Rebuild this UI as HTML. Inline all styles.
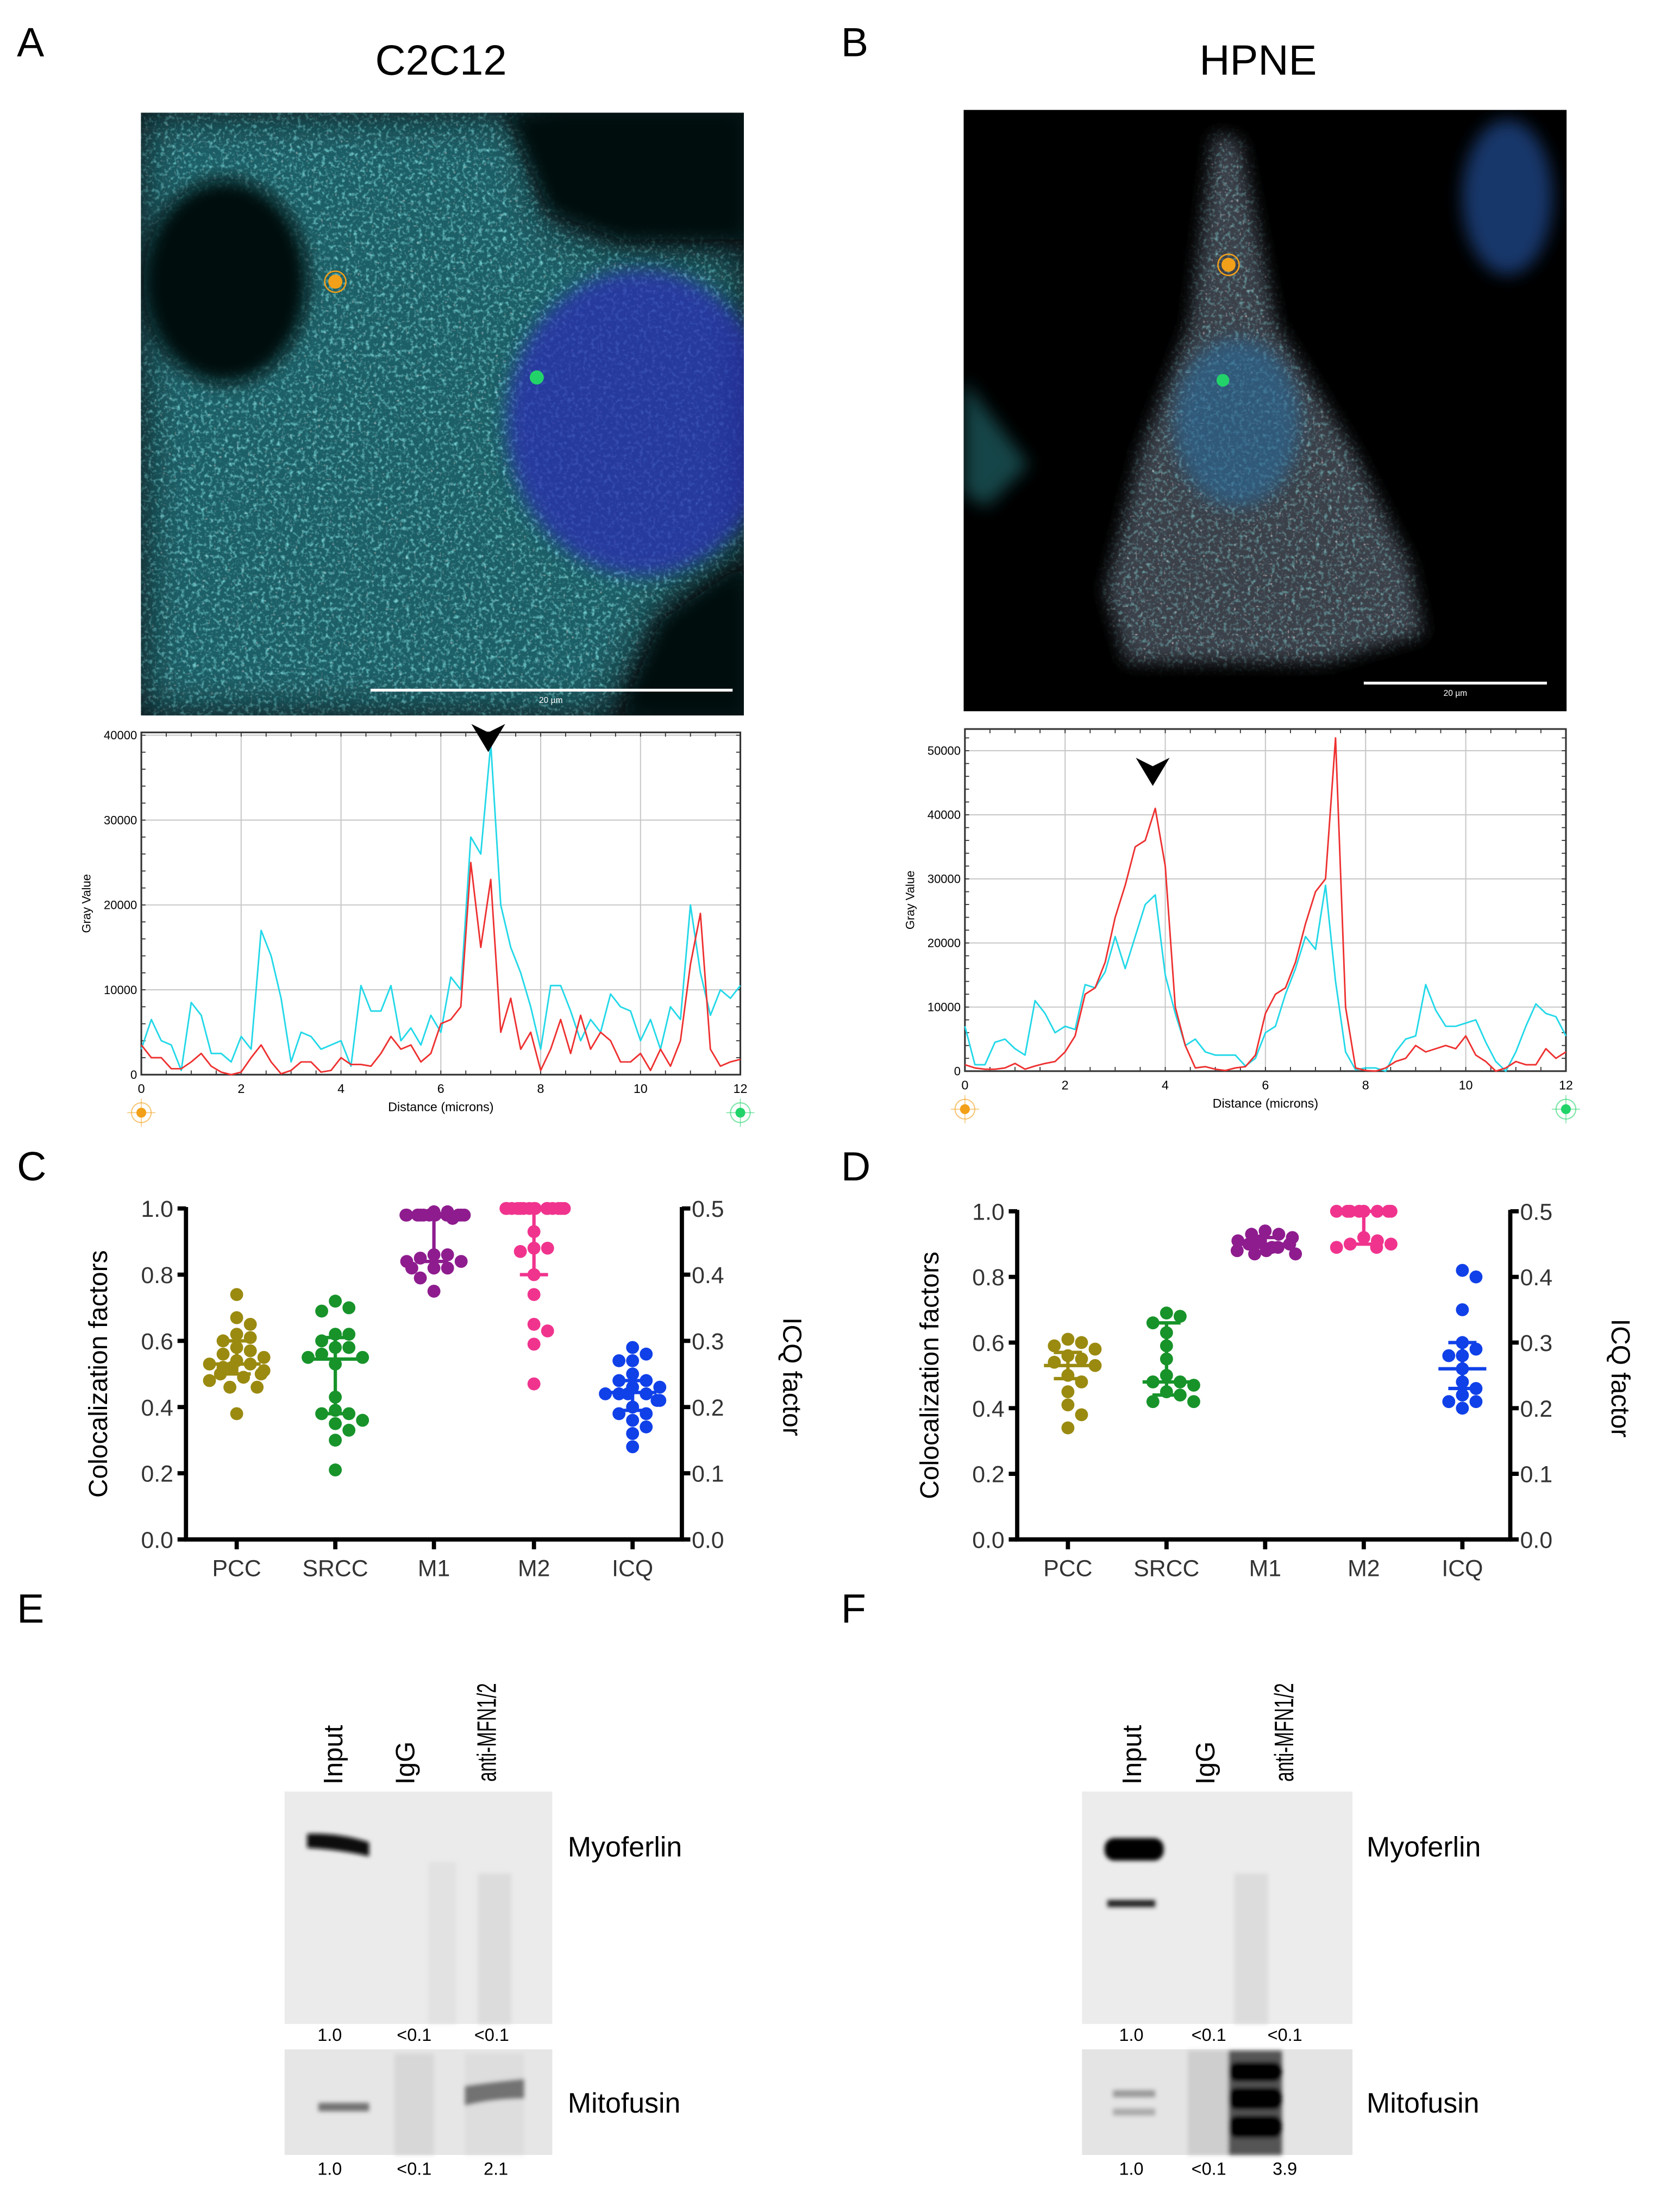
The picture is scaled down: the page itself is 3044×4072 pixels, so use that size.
<!DOCTYPE html>
<html><head><meta charset="utf-8"><style>
html,body{margin:0;padding:0;background:#fff;}
svg{display:block;font-family:"Liberation Sans",Arial,sans-serif;}
</style></head><body>
<svg id="fig" width="3044" height="4072" viewBox="0 0 1174 1570.5" xmlns="http://www.w3.org/2000/svg">
<defs>
<filter id="blur6" x="-50%" y="-50%" width="200%" height="200%"><feGaussianBlur stdDeviation="6"/></filter>
<filter id="blur15" x="-50%" y="-50%" width="200%" height="200%"><feGaussianBlur stdDeviation="15"/></filter>
<filter id="blur2"><feGaussianBlur stdDeviation="1.5"/></filter>
<filter id="speck"><feTurbulence type="fractalNoise" baseFrequency="0.35" numOctaves="2" seed="3"/><feColorMatrix type="matrix" values="0 0 0 0 0.3  0 0 0 0 0.95  0 0 0 0 0.95  0 0 0 2.2 -1.1"/></filter>
<filter id="speckR"><feTurbulence type="fractalNoise" baseFrequency="0.5" numOctaves="1" seed="9"/><feColorMatrix type="matrix" values="0 0 0 0 1  0 0 0 0 0.8  0 0 0 0 0.8  0 0 0 3 -1.9"/></filter>
<clipPath id="clipA"><rect x="100" y="80" width="428" height="428"/></clipPath>
<clipPath id="clipB"><rect x="684" y="78" width="428" height="427"/></clipPath>
</defs>

<text x="12" y="40" font-size="29">A</text>
<text x="313" y="53" font-size="30" text-anchor="middle">C2C12</text>
<text x="597" y="40" font-size="29">B</text>
<text x="893" y="53" font-size="30" text-anchor="middle">HPNE</text>

<g clip-path="url(#clipA)">
<rect x="100" y="80" width="428" height="428" fill="#0a0f12"/>
<g filter="url(#blur15)">
<path d="M100,80 L370,80 L390,160 L450,175 L528,180 L528,390 L470,430 L430,508 L100,508 Z" fill="#1f5f66"/>
</g>
<mask id="mA"><g filter="url(#blur15)"><path d="M100,80 L370,80 L390,160 L450,175 L528,180 L528,390 L470,430 L430,508 L100,508 Z" fill="#fff"/><ellipse cx="160" cy="200" rx="62" ry="75" fill="#000"/></g></mask>
<rect x="100" y="80" width="428" height="428" filter="url(#speck)" opacity="0.85" mask="url(#mA)"/>
<rect x="100" y="80" width="428" height="428" filter="url(#speckR)" opacity="0.7" mask="url(#mA)"/>
<g filter="url(#blur6)"><ellipse cx="160" cy="200" rx="58" ry="72" fill="#06090b"/><path d="M360,80 L528,80 L528,170 L440,170 L390,150 Z" fill="#050708"/><path d="M470,440 L528,400 L528,508 L440,508 Z" fill="#050708"/></g>
<ellipse cx="455" cy="300" rx="95" ry="108" fill="#2a2fb0" opacity="0.75" filter="url(#blur6)"/>
<line x1="263" y1="490" x2="520" y2="490" stroke="#fff" stroke-width="2"/>
<text x="391" y="499" font-size="6" fill="#fff" text-anchor="middle">20 µm</text>
<circle cx="238" cy="200" r="5" fill="#f2a019"/><circle cx="238" cy="200" r="7.5" fill="none" stroke="#f2a019" stroke-width="1"/>
<circle cx="381" cy="268" r="5" fill="#22d36a"/>
</g>

<g clip-path="url(#clipB)">
<rect x="684" y="78" width="428" height="427" fill="#000"/>
<mask id="mB"><g filter="url(#blur6)"><path d="M862,95 L880,100 L905,230 L960,320 L1000,400 L1010,450 L940,470 L800,470 L785,420 L810,320 L845,230 Z" fill="#fff"/></g></mask>
<g filter="url(#blur6)"><path d="M862,95 L880,100 L905,230 L960,320 L1000,400 L1010,450 L940,470 L800,470 L785,420 L810,320 L845,230 Z" fill="#3a4048"/></g>
<rect x="684" y="78" width="428" height="427" filter="url(#speckR)" opacity="0.9" mask="url(#mB)"/>
<rect x="684" y="78" width="428" height="427" filter="url(#speck)" opacity="0.6" mask="url(#mB)"/>
<ellipse cx="878" cy="300" rx="45" ry="60" fill="#2a6a9a" opacity="0.6" filter="url(#blur6)"/>
<g filter="url(#blur6)"><ellipse cx="1070" cy="140" rx="32" ry="55" fill="#2a5ab0" opacity="0.6"/><path d="M684,270 L730,330 L700,360 L684,350 Z" fill="#2a8a90" opacity="0.5"/></g>
<line x1="968" y1="485" x2="1098" y2="485" stroke="#fff" stroke-width="2"/>
<text x="1033" y="494" font-size="6" fill="#fff" text-anchor="middle">20 µm</text>
<circle cx="872" cy="188" r="5" fill="#f2a019"/><circle cx="872" cy="188" r="7.5" fill="none" stroke="#f2a019" stroke-width="1"/>
<circle cx="868" cy="270" r="4.5" fill="#22d36a"/>
</g>

<g id="plotA"></g>
<g id="plotB"></g>

<text x="12" y="838" font-size="29">C</text>
<text x="597" y="838" font-size="29">D</text>
<g id="chartC"></g>
<g id="chartD"></g>

<text x="12" y="1152" font-size="29">E</text>
<text x="597" y="1152" font-size="29">F</text>
<g font-size="19">
<text transform="translate(243,1267) rotate(-90)">Input</text>
<text transform="translate(294,1267) rotate(-90)">IgG</text>
<text transform="translate(352,1265) rotate(-90)" textLength="70" lengthAdjust="spacingAndGlyphs">anti-MFN1/2</text>
<rect x="202" y="1272" width="190" height="165" fill="#ebebeb"/>
<g filter="url(#blur2)"><path d="M218,1302 Q240,1301 262,1308 L262,1318 Q240,1313 218,1312 Z" fill="#0a0a0a"/>
<rect x="304" y="1322" width="20" height="115" fill="#dcdcdc" opacity="0.6"/><rect x="339" y="1330" width="24" height="107" fill="#d6d6d6" opacity="0.7"/></g>
<text x="403" y="1318" font-size="20">Myoferlin</text>
<g font-size="12.5" text-anchor="middle"><text x="234" y="1449">1.0</text><text x="294" y="1449">&lt;0.1</text><text x="349" y="1449">&lt;0.1</text></g>
<rect x="202" y="1455" width="190" height="75" fill="#e6e6e6"/>
<g filter="url(#blur2)"><rect x="226" y="1493" width="36" height="6" fill="#555" opacity="0.8"/><rect x="280" y="1458" width="28" height="72" fill="#d0d0d0" opacity="0.7"/>
<path d="M330,1481 Q350,1478 372,1476 L372,1490 Q350,1490 330,1495 Z" fill="#111"/><rect x="330" y="1458" width="42" height="72" fill="#d4d4d4" opacity="0.5"/></g>
<text x="403" y="1500" font-size="20">Mitofusin</text>
<g font-size="12.5" text-anchor="middle"><text x="234" y="1544">1.0</text><text x="294" y="1544">&lt;0.1</text><text x="352" y="1544">2.1</text></g>
</g>
<g font-size="19">
<text transform="translate(810,1267) rotate(-90)">Input</text>
<text transform="translate(862,1267) rotate(-90)">IgG</text>
<text transform="translate(918,1265) rotate(-90)" textLength="70" lengthAdjust="spacingAndGlyphs">anti-MFN1/2</text>
<rect x="768" y="1272" width="192" height="165" fill="#ececec"/>
<g filter="url(#blur2)"><rect x="784" y="1305" width="42" height="16" rx="7" fill="#050505"/><rect x="786" y="1349" width="34" height="5" fill="#222"/>
<rect x="876" y="1330" width="24" height="107" fill="#d8d8d8" opacity="0.8"/></g>
<text x="970" y="1318" font-size="20">Myoferlin</text>
<g font-size="12.5" text-anchor="middle"><text x="803" y="1449">1.0</text><text x="858" y="1449">&lt;0.1</text><text x="912" y="1449">&lt;0.1</text></g>
<rect x="768" y="1455" width="192" height="75" fill="#e4e4e4"/>
<g filter="url(#blur2)"><rect x="790" y="1484" width="30" height="5" fill="#999"/><rect x="790" y="1497" width="30" height="5" fill="#aaa"/>
<rect x="843" y="1456" width="34" height="74" fill="#c8c8c8" opacity="0.8"/>
<rect x="872" y="1456" width="38" height="74" fill="#555"/>
<rect x="872" y="1464" width="38" height="14" rx="6" fill="#000"/><rect x="872" y="1482" width="38" height="16" rx="6" fill="#000"/><rect x="872" y="1502" width="38" height="16" rx="6" fill="#000"/></g>
<text x="970" y="1500" font-size="20">Mitofusin</text>
<g font-size="12.5" text-anchor="middle"><text x="803" y="1544">1.0</text><text x="858" y="1544">&lt;0.1</text><text x="912" y="1544">3.9</text></g>
</g>
</svg>
<script>
const distA = [0,0.2,0.4,0.6,0.8,1,1.2,1.4,1.6,1.8,2,2.2,2.4,2.6,2.8,3,3.2,3.4,3.6,3.8,4,4.2,4.4,4.6,4.8,5,5.2,5.4,5.6,5.8,6,6.2,6.4,6.6,6.8,7,7.2,7.4,7.6,7.8,8,8.2,8.4,8.6,8.8,9,9.2,9.4,9.6,9.8,10,10.2,10.4,10.6,10.8,11,11.2,11.4,11.6,11.8,12];
const cyanA = [3000,6500,4000,3500,500,8500,7000,2500,2500,1500,4500,3000,17000,14000,9000,1500,5000,4500,3000,3500,4000,1000,10500,7500,7500,10500,4000,5500,3500,7000,5000,11500,10000,28000,26000,39000,20000,15000,12000,8000,3000,10500,10500,7500,4000,6500,5000,9500,8000,7500,4000,6500,3000,8000,6500,20000,12000,7000,10000,9000,10500];
const redA = [3500,2000,2000,700,700,1500,2500,1000,300,0,300,2000,3500,1500,100,500,1500,1500,300,500,2000,1200,1200,1000,2500,4500,3000,3500,1500,2500,6000,6500,8000,25000,15000,23000,5000,9000,3000,5000,500,3000,6500,2500,7000,3000,5000,4000,1500,1500,2500,500,3000,1000,4000,13000,19000,3000,1000,1500,1800];
const distB = distA;
const cyanB = [7000,1000,1000,4500,5000,3500,2500,11000,9000,6000,7000,6500,13500,13000,15500,21000,16000,21000,26000,27500,15000,9000,4000,5000,3000,2500,2500,2500,800,2000,6000,7000,12000,16000,21000,19000,29000,14000,3000,200,500,500,0,3000,5000,5500,13500,9500,7000,7000,7500,8000,4500,1500,0,3000,7000,10500,9000,8500,5500];
const redB = [1000,500,300,300,500,1200,300,800,1200,1500,3000,5500,12000,13000,17000,24000,29000,35000,36000,41000,32000,10000,4000,500,700,300,100,500,700,2500,9000,12000,13000,17000,23000,28000,30000,52000,10000,500,100,0,500,1500,2000,4000,3000,3500,4000,3500,5500,2500,1500,0,500,1500,1000,1000,3500,2000,3000];
const xTicks = [0,2,4,6,8,10,12];
const yTicksA = [0,10000,20000,30000,40000];
const yTicksB = [0,10000,20000,30000,40000,50000];
const arrowA = 6.95, arrowB = 3.75;

const categories = ["PCC","SRCC","M1","M2","ICQ"];
const pccC = [0.74,0.67,0.65,0.62,0.61,0.60,0.58,0.57,0.56,0.55,0.54,0.53,0.53,0.52,0.52,0.51,0.50,0.50,0.49,0.48,0.46,0.46,0.38];
const srccC = [0.72,0.70,0.69,0.62,0.62,0.60,0.58,0.58,0.56,0.55,0.55,0.53,0.43,0.39,0.38,0.38,0.36,0.35,0.33,0.30,0.21];
const m1C = [0.99,0.99,0.98,0.98,0.98,0.98,0.98,0.98,0.98,0.98,0.98,0.98,0.98,0.97,0.86,0.86,0.85,0.84,0.84,0.82,0.82,0.82,0.79,0.75];
const m2C = [1,1,1,1,1,1,1,1,1,1,1,1,1,1,1,0.93,0.88,0.88,0.87,0.80,0.74,0.65,0.63,0.59,0.47];
const icqC = [0.29,0.28,0.27,0.27,0.25,0.24,0.24,0.23,0.23,0.22,0.22,0.22,0.22,0.21,0.21,0.20,0.19,0.19,0.18,0.17,0.16,0.14];
const statsC = [[0.53,0.50,0.60],[0.545,0.38,0.61],[0.975,0.84,0.98],[1.0,0.80,1.0],[0.222,0.195,0.24]];
const pccD = [0.61,0.60,0.59,0.58,0.56,0.55,0.54,0.53,0.50,0.48,0.45,0.41,0.38,0.34];
const srccD = [0.69,0.68,0.66,0.63,0.59,0.55,0.50,0.48,0.48,0.47,0.45,0.44,0.42,0.42];
const m1D = [0.94,0.93,0.93,0.92,0.91,0.91,0.90,0.90,0.89,0.89,0.88,0.88,0.87,0.87];
const m2D = [1,1,1,1,1,1,1,1,0.92,0.91,0.90,0.90,0.89,0.89];
const icqD = [0.41,0.40,0.35,0.30,0.29,0.28,0.28,0.26,0.24,0.23,0.22,0.21,0.21,0.20];
const statsD = [[0.53,0.49,0.57],[0.48,0.44,0.66],[0.90,0.89,0.92],[1.0,0.90,1.0],[0.26,0.23,0.30]];
const leftTicks = [0,0.2,0.4,0.6,0.8,1.0];
const rightTicks = [0,0.1,0.2,0.3,0.4,0.5];
const colors = ["#9a8a10","#17932a","#8e1c8e","#f0348e","#1040e8"];

const NS = "http://www.w3.org/2000/svg";
function mk(parent, tag, attrs, text){const e=document.createElementNS(NS,tag);for(const k in attrs)e.setAttribute(k,attrs[k]);if(text!==undefined)e.textContent=text;parent.appendChild(e);return e;}

function profile(gid, cfg){
  const g=document.getElementById(gid);
  const xs=v=>cfg.x0+(v-0)/12*(cfg.x1-cfg.x0);
  const ys=v=>cfg.y0-v/cfg.unit*(cfg.y0-cfg.yUnit);
  cfg.xTicks.forEach(t=>{ if(t>0&&t<12){const l=mk(g,'line',{x1:xs(t),x2:xs(t),y1:cfg.top,y2:cfg.y0,stroke:'#c8c8c8','stroke-width':0.8});
    
    }
    const tl=mk(g,'text',{x:xs(t),y:cfg.y0+13,'font-size':9,'text-anchor':'middle'},String(t));
    
    
  });
  cfg.yTicks.forEach(t=>{ if(t>0){const l=mk(g,'line',{x1:cfg.x0,x2:cfg.x1,y1:ys(t),y2:ys(t),stroke:'#c8c8c8','stroke-width':0.8});
    
    }
    const tl=mk(g,'text',{x:cfg.x0-3,y:ys(t)+3,'font-size':8.5,'text-anchor':'end'},String(t));
    
    
  });
  for(let t=0;t<=12.01;t+=0.5){mk(g,'line',{x1:xs(t),x2:xs(t),y1:cfg.top,y2:cfg.top+3,stroke:'#333','stroke-width':0.7});mk(g,'line',{x1:xs(t),x2:xs(t),y1:cfg.y0,y2:cfg.y0-3,stroke:'#333','stroke-width':0.7});}
  for(let t=0;t<=cfg.yMax;t+=2000){mk(g,'line',{x1:cfg.x0,x2:cfg.x0+3,y1:ys(t),y2:ys(t),stroke:'#333','stroke-width':0.7});mk(g,'line',{x1:cfg.x1,x2:cfg.x1-3,y1:ys(t),y2:ys(t),stroke:'#333','stroke-width':0.7});}
  const fr=mk(g,'rect',{x:cfg.x0,y:cfg.top,width:cfg.x1-cfg.x0,height:cfg.y0-cfg.top,fill:'none',stroke:'#333','stroke-width':1.2});
  
  
  const series=[[cfg.cyan,'#22d8e8','cyan-channel-line'],[cfg.red,'#ee3030','red-channel-line']];
  series.forEach(s=>{
    const d=s[0].map((v,i)=>(i?'L':'M')+xs(cfg.dist[i]).toFixed(2)+','+ys(v).toFixed(2)).join(' ');
    const p=mk(g,'path',{d:d,fill:'none',stroke:s[1],'stroke-width':1.1,'stroke-linejoin':'round'});
    
    
  });
  const ax=xs(cfg.arrow);
  const ar=mk(g,'path',{d:`M${ax-12},${cfg.arrowY} L${ax},${cfg.arrowY+6} L${ax+12},${cfg.arrowY} L${ax},${cfg.arrowY+20} Z`,fill:'#000'});
  
  
  const xt=mk(g,'text',{x:(cfg.x0+cfg.x1)/2,y:cfg.y0+26,'font-size':9,'text-anchor':'middle'},'Distance (microns)');
  
  
  const yt=mk(g,'text',{transform:`translate(${cfg.x0-36},${(cfg.top+cfg.y0)/2}) rotate(-90)`,'font-size':8.5,'text-anchor':'middle'},'Gray Value');
  
  
  [[cfg.x0,'#f2a019','start-marker'],[cfg.x1,'#22d36a','end-marker']].forEach(m=>{
    const c=mk(g,'g',{});
    
    
    mk(c,'circle',{cx:m[0],cy:cfg.y0+27,r:7,fill:'none',stroke:m[1],'stroke-width':0.8,opacity:0.6});
    mk(c,'circle',{cx:m[0],cy:cfg.y0+27,r:3.5,fill:m[1]});
    mk(c,'line',{x1:m[0]-10,x2:m[0]+10,y1:cfg.y0+27,y2:cfg.y0+27,stroke:m[1],'stroke-width':0.6,opacity:0.6});
    mk(c,'line',{x1:m[0],x2:m[0],y1:cfg.y0+17,y2:cfg.y0+37,stroke:m[1],'stroke-width':0.6,opacity:0.6});
  });
}
profile('plotA',{x0:100.3,x1:525.5,y0:763,yUnit:522,unit:40000,top:520,yMax:40000,dist:distA,cyan:cyanA,red:redA,xTicks:xTicks,yTicks:yTicksA,arrow:arrowA,arrowY:514});
profile('plotB',{x0:684.9,x1:1111.5,y0:760.5,yUnit:533,unit:50000,top:517.6,yMax:53000,dist:distB,cyan:cyanB,red:redB,xTicks:xTicks,yTicks:yTicksB,arrow:arrowB,arrowY:538});

function swarm(vals, cx, ys, r, maxW){
  const placed=[];const out=[];let overflow=0;
  vals.forEach(v=>{const y=ys(v);let k=0,x=null;
    while(true){const off=(k%2?1:-1)*Math.ceil(k/2)*r*1.05;
      if(Math.abs(off)>maxW)break;
      const cand=cx+off;
      if(placed.every(p=>Math.hypot(p[0]-cand,p[1]-y)>=2*r*0.98)){x=cand;break;}
      k++;}
    if(x===null){overflow++;const n=Math.floor(2*maxW/(r*0.9));x=cx-maxW+((overflow*5)%(n+1))*r*0.9;}
    placed.push([x,y]);out.push([x,y]);});
  return out;
}
function coloc(gid,cfg){
  const g=document.getElementById(gid);
  const yl=v=>cfg.y0-v*(cfg.y0-cfg.y1);
  const yr=v=>cfg.y0-v/0.5*(cfg.y0-cfg.y1);
  const ax=mk(g,'path',{d:`M${cfg.xl},${cfg.y1-1} L${cfg.xl},${cfg.y0} L${cfg.xr},${cfg.y0} L${cfg.xr},${cfg.y1-1}`,fill:'none',stroke:'#000','stroke-width':3});
  
  
  leftTicks.forEach(t=>{mk(g,'line',{x1:cfg.xl-6,x2:cfg.xl,y1:yl(t),y2:yl(t),stroke:'#000','stroke-width':3});
    const tl=mk(g,'text',{x:cfg.xl-9,y:yl(t)+6,'font-size':16.5,'text-anchor':'end',fill:'#333'},t.toFixed(1));
    
    });
  rightTicks.forEach(t=>{mk(g,'line',{x1:cfg.xr,x2:cfg.xr+6,y1:yr(t),y2:yr(t),stroke:'#000','stroke-width':3});
    const tl=mk(g,'text',{x:cfg.xr+7,y:yr(t)+6,'font-size':16.5,fill:'#333'},t.toFixed(1));
    
    });
  const lt=mk(g,'text',{transform:`translate(${cfg.xl-56},${(cfg.y0+cfg.y1)/2}) rotate(-90)`,'font-size':18.5,'text-anchor':'middle'},'Colocalization factors');
  
  
  const rt=mk(g,'text',{transform:`translate(${cfg.xr+72},${(cfg.y0+cfg.y1)/2+2}) rotate(90)`,'font-size':18.5,'text-anchor':'middle'},'ICQ factor');
  
  
  categories.forEach((c,i)=>{const x=cfg.cats[i];
    mk(g,'line',{x1:x,x2:x,y1:cfg.y0,y2:cfg.y0+7,stroke:'#000','stroke-width':3});
    const tl=mk(g,'text',{x:x,y:cfg.y0+26,'font-size':16.5,'text-anchor':'middle',fill:'#333'},c);
    
    
    const ys=i===4?yr:yl;
    const grp=mk(g,'g',{fill:colors[i]});
    
    
    swarm(cfg.data[i],x,ys,4.6,cfg.maxW).forEach(p=>mk(grp,'circle',{cx:p[0].toFixed(2),cy:p[1].toFixed(2),r:4.6}));
    const st=cfg.stats[i];
    const eb=mk(g,'path',{d:`M${x-17},${ys(st[0])} H${x+17} M${x-10},${ys(st[1])} H${x+10} M${x-10},${ys(st[2])} H${x+10} M${x},${ys(st[1])} V${ys(st[2])}`,stroke:colors[i],'stroke-width':2.4,fill:'none'});
    
    
  });
}
coloc('chartC',{xl:132,xr:484,y0:1093,y1:858,cats:[168,238,308,379,449],data:[pccC,srccC,m1C,m2C,icqC],stats:statsC,maxW:24});
coloc('chartD',{xl:722,xr:1072,y0:1093,y1:860,cats:[758,828,898,968,1038],data:[pccD,srccD,m1D,m2D,icqD],stats:statsD,maxW:24});
</script>
</body></html>
